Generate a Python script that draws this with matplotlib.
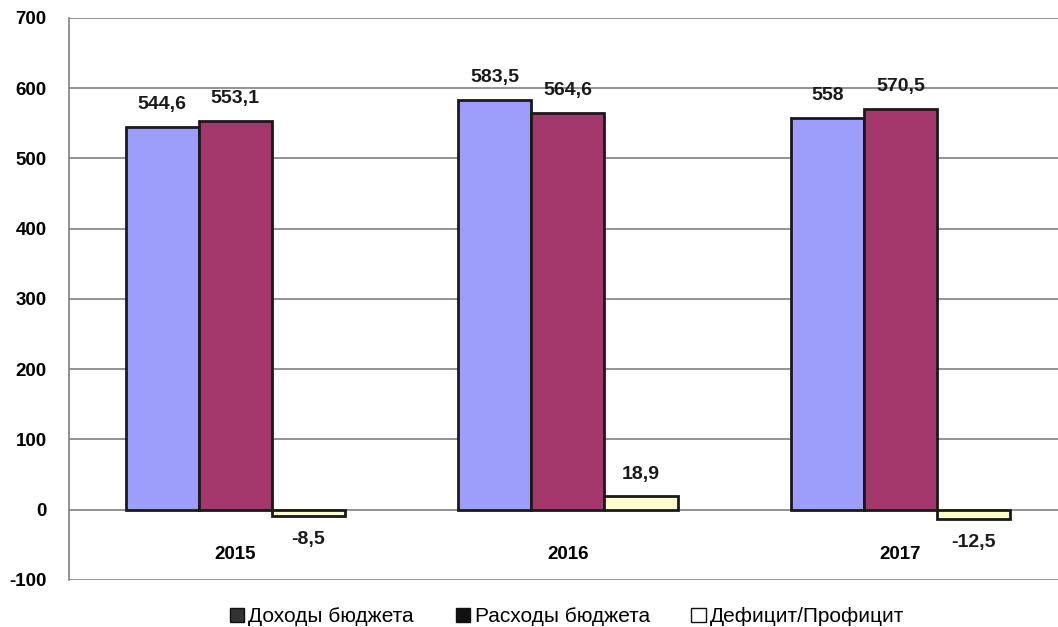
import matplotlib
matplotlib.use("Agg")
import matplotlib.pyplot as plt
import matplotlib.patches as patches
import numpy as np

# данные
years = ["2015", "2016", "2017"]
dohody = [544.6, 583.5, 558.0]
rashody = [553.1, 564.6, 570.5]
deficit = [-8.5, 18.9, -12.5]
labels_dohody = ["544,6", "583,5", "558"]
labels_rashody = ["553,1", "564,6", "570,5"]
labels_deficit = ["-8,5", "18,9", "-12,5"]
series_names = ["Доходы бюджета", "Расходы бюджета", "Дефицит/Профицит"]

plt.rcParams['font.family'] = ['Liberation Sans', 'DejaVu Sans']
plt.rcParams['axes.unicode_minus'] = False

fig = plt.figure(figsize=(10.58, 6.27), dpi=100)
ax = fig.add_axes([0.0652, 0.0750, 0.9348, 0.8963])

# ось категорий проходит через 0
ax.spines['bottom'].set_position(('data', 0))
ax.spines['bottom'].set_visible(False)
ax.spines['top'].set_visible(False)
ax.spines['right'].set_visible(False)
ax.spines['left'].set_color('#808080')
ax.spines['left'].set_linewidth(1.2)

x = np.arange(len(years))
w = 0.22
colors = ['#9d9dfb', '#a3386c', '#ffffcc']

b1 = ax.bar(x - w, dohody, w, color=colors[0], edgecolor='#1a1a1a', linewidth=2.0, zorder=3)
b2 = ax.bar(x, rashody, w, color=colors[1], edgecolor='#1a1a1a', linewidth=2.0, zorder=3)
b3 = ax.bar(x + w, deficit, w, color=colors[2], edgecolor='#1a1a1a', linewidth=2.0, zorder=3)

# подписи значений
for bars, labs in [(b1, labels_dohody), (b2, labels_rashody), (b3, labels_deficit)]:
    for rect, lab in zip(bars, labs):
        h = rect.get_height()
        off = 16 if h >= 0 else -17
        ax.annotate(lab, xy=(rect.get_x() + rect.get_width() / 2, h),
                    xytext=(0, off), textcoords='offset points',
                    ha='center', va='center', fontsize=14, fontweight='bold',
                    color='#1a1a1a')

ax.set_xlim(-0.5, 2.474)
ax.set_ylim(-100, 700)
ax.set_yticks(range(-100, 701, 100))
ax.set_xticks(x)
ax.set_xticklabels(years)
ax.tick_params(axis='y', length=0, pad=16, labelsize=13.5)
ax.tick_params(axis='x', length=0, pad=26, labelsize=13.5)
for lab in ax.get_yticklabels() + ax.get_xticklabels():
    lab.set_fontweight('bold')

ax.grid(axis='y', color='#808080', linewidth=1.2, zorder=0)

handles = [patches.Patch(facecolor='#333333', edgecolor='#111111'),
           patches.Patch(facecolor='#111111', edgecolor='#111111'),
           patches.Patch(facecolor='white', edgecolor='#111111')]
fig.legend(handles, series_names, loc='center', bbox_to_anchor=(0.536, 0.016),
           ncol=3, frameon=False, handlelength=0.7, handleheight=0.7,
           handletextpad=0.2, columnspacing=2.0,
           prop={'family': ['Liberation Sans Narrow', 'Liberation Sans'], 'size': 15})

fig.savefig("out.png", dpi=100)
